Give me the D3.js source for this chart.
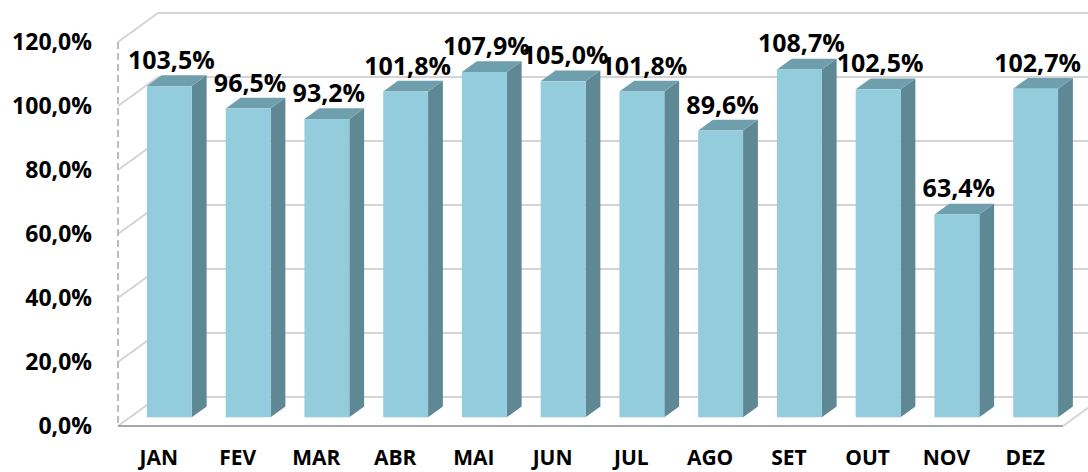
<!DOCTYPE html>
<html>
<head>
<meta charset="utf-8">
<script src="https://cdn.jsdelivr.net/npm/d3@7"></script>
<style>
  html, body { margin: 0; padding: 0; background: #fff; }
  text { font-family: "Open Sans", sans-serif; font-weight: bold; fill: #000; }
</style>
</head>
<body>
<div id="chart"></div>
<script>
var w = 1088, h = 472;

// data
var months = ["JAN", "FEV", "MAR", "ABR", "MAI", "JUN", "JUL", "AGO", "SET", "OUT", "NOV", "DEZ"];
var values = [103.5, 96.5, 93.2, 101.8, 107.9, 105.0, 101.8, 89.6, 108.7, 102.5, 63.4, 102.7];
var tickValues = [0, 20, 40, 60, 80, 100, 120];

// 3d depth of the floor (front plane -> back wall)
var depthX = 40, depthY = -29;
var barFront = 0.30, barBack = 0.67;

var svg = d3.select("#chart").append("svg")
    .attr("width", w).attr("height", h);

// scales live on the front plane
var x = d3.scaleBand().domain(months).range([118, 1063])
    .paddingInner(0.43).paddingOuter(0.215);
var y = d3.scaleLinear().domain([0, 120]).range([426, 42]);

var fmt = function (v) { return d3.format(".1f")(v).replace(".", ",") + "%"; };

// back wall gridlines
var grid = svg.append("g");
grid.selectAll("line.back").data(tickValues).enter().append("line")
    .attr("class", "back")
    .attr("x1", 118 + depthX).attr("x2", 1063 + depthX)
    .attr("y1", d => y(d) + depthY).attr("y2", d => y(d) + depthY)
    .attr("stroke", "#d4d4d4").attr("stroke-width", 2);

// left wall diagonals
grid.selectAll("line.side").data(tickValues).enter().append("line")
    .attr("class", "side")
    .attr("x1", 118).attr("x2", 118 + depthX)
    .attr("y1", d => y(d)).attr("y2", d => y(d) + depthY)
    .attr("stroke", "#d4d4d4").attr("stroke-width", 2);

// dashed front edge of the left wall
grid.append("line")
    .attr("x1", 118).attr("x2", 118)
    .attr("y1", y(120)).attr("y2", y(0))
    .attr("stroke", "#bdbdbd").attr("stroke-width", 2)
    .attr("stroke-dasharray", "7,4");

// floor: front edge + right diagonal
grid.append("line")
    .attr("x1", 118).attr("x2", 1063)
    .attr("y1", y(0)).attr("y2", y(0))
    .attr("stroke", "#a6a6a6").attr("stroke-width", 2);
grid.append("line")
    .attr("x1", 1063).attr("x2", 1063 + depthX)
    .attr("y1", y(0)).attr("y2", y(0) + depthY)
    .attr("stroke", "#d4d4d4").attr("stroke-width", 2);

// bars
var bw = x.bandwidth();
var ddx = depthX * (barBack - barFront), ddy = depthY * (barBack - barFront);

var bars = svg.append("g").selectAll("g.bar")
    .data(months.map((m, i) => ({ month: m, value: values[i] })))
    .enter().append("g").attr("class", "bar")
    .each(function (d) {
        var x0 = x(d.month) + depthX * barFront, x1 = x0 + bw;
        var yT = y(d.value) + depthY * barFront, yB = y(0) + depthY * barFront;
        d.cx = (x0 + x1) / 2; d.top = yT;
        var g = d3.select(this);
        g.append("polygon")
            .attr("points", [[x1, yT], [x1 + ddx, yT + ddy], [x1 + ddx, yB + ddy], [x1, yB]].join(" "))
            .attr("fill", "#5e8893");
        g.append("polygon")
            .attr("points", [[x0, yT], [x1, yT], [x1 + ddx, yT + ddy], [x0 + ddx, yT + ddy]].join(" "))
            .attr("fill", "#6f9fac");
        g.append("rect")
            .attr("x", x0).attr("y", yT)
            .attr("width", bw).attr("height", yB - yT)
            .attr("fill", "#93cddd");
    });

// value labels
svg.append("g").selectAll("text").data(bars.data()).enter().append("text")
    .attr("x", d => d.cx + 2)
    .attr("y", d => d.top - 17)
    .attr("text-anchor", "middle")
    .attr("font-size", "25px")
    .text(d => fmt(d.value));

// y axis labels
svg.append("g").selectAll("text").data(tickValues).enter().append("text")
    .attr("x", 92)
    .attr("y", d => y(d) + 8)
    .attr("text-anchor", "end")
    .attr("font-size", "23px")
    .text(d => fmt(d));

// month labels
svg.append("g").selectAll("text").data(months).enter().append("text")
    .attr("x", d => x(d) + bw / 2 + 1.5)
    .attr("y", 465)
    .attr("text-anchor", "middle")
    .attr("font-size", "21px")
    .text(d => d);
</script>
</body>
</html>
